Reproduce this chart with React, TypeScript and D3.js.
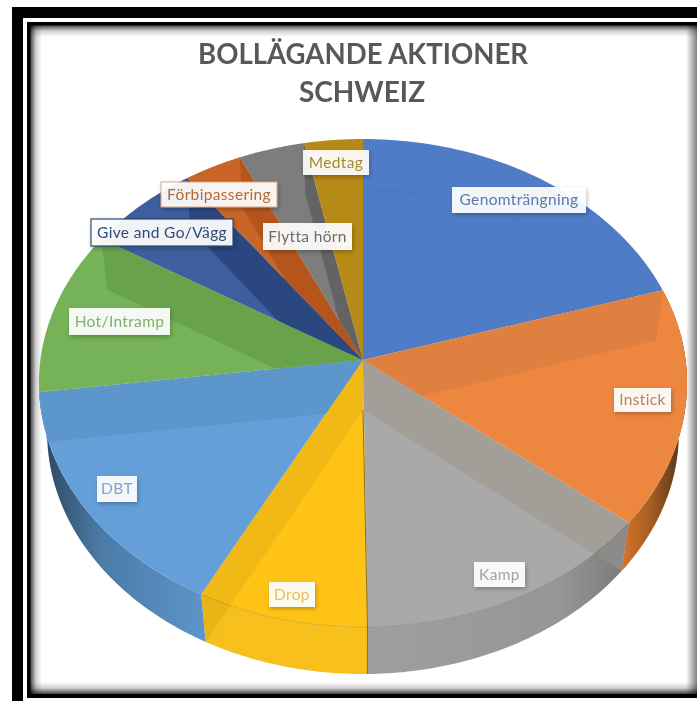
import React from "react";
import * as d3 from "d3";

const width = 697;
const height = 701;

// slice shares, percent
const categories = ["Genomträngning", "Instick", "Kamp", "Drop", "DBT", "Hot/Intramp", "Give and Go/Vägg", "Förbipassering", "Flytta hörn", "Medtag"];
const values = [20.2, 15.7, 13.9, 7.8, 15.3, 10.9, 6.2, 3.2, 3.6, 3.2];

const topColors = ["#4f7cc7", "#ed8740", "#a9a9a9", "#ffc317", "#659fd9", "#76b258", "#3c5f9f", "#c96526", "#7d7d7d", "#b68a14"];
const wallColors = ["#4a76bd", "#df7f3f", "#a39e98", "#f1b917", "#5c96cb", "#68a24b", "#2c477f", "#b4561e", "#646464", "#a67d10"];
const wallSideColors = ["#4a76bd", "#c46f30", "#8b8b8b", "#e9b516", "#5c96cb", "#68a24b", "#2c477f", "#b4561e", "#646464", "#a67d10"];
const textColors = ["#5a7aa8", "#b98258", "#a3a3a3", "#e8c060", "#82a5ca", "#82b26c", "#2f4a75", "#b56a36", "#6c6c6c", "#a8892f"];

// which cut face shows: the one on the start or the end of the slice
const wallSide = ["none", "start", "start", "end", "end", "end", "end", "end", "end", "end"];

// label boxes: x0, y0, x1, y1
const labelBoxes = [
  [452, 187, 586, 213], [614, 388, 671, 412], [474, 562, 525, 587], [269, 582, 315, 607], [97, 476, 137, 502],
  [69, 308, 170, 335], [91, 219, 233, 246], [161, 182, 277, 207], [263, 223, 352, 250], [303, 150, 369, 175],
];

// perspective: top rim and bottom rim of the pie
const rimTop = { cy: 360, rx: 322.6, ry: 241.8, k: 0.0943 };
const rimBottom = { cy: 410, rx: 314.6, ry: 240, k: 0.091 };
const cx = 363;

type Rim = typeof rimTop;
const project = (rim: Rim, a: number): [number, number] => {
  const X = Math.sin(a);
  const Y = -Math.cos(a);
  const w = 1 - rim.k * Y;
  return [cx + (rim.rx * X) / w, rim.cy + (rim.ry * Y) / w];
};
const arcPoints = (rim: Rim, a0: number, a1: number) =>
  d3.range(0, 61).map((i) => project(rim, a0 + ((a1 - a0) * i) / 60));
const line = d3.line();

const slices = d3.pie<number>().sort(null)(values);

const topPath = (s: any) => line([[cx, rimTop.cy], ...arcPoints(rimTop, s.startAngle, s.endAngle)]) + "Z";
const sidePath = (s: any) =>
  line([...arcPoints(rimTop, s.startAngle, s.endAngle), ...arcPoints(rimBottom, s.endAngle, s.startAngle)]) + "Z";
const wallPath = (a: number) =>
  line([[cx, rimTop.cy], project(rimTop, a), project(rimBottom, a), [cx, rimBottom.cy]]) + "Z";

// the side walls shade across x, stops are [x, colour]
const sideStops: ([number, string][] | null)[] = [
  null,
  [[618, "#d9762c"], [650, "#a85f24"], [682, "#553318"]],
  [[367, "#9f9f9f"], [560, "#969696"], [622, "#7c7c7c"]],
  [[205, "#f6bf1a"], [367, "#f9c11a"]],
  [[47, "#2f4a66"], [100, "#4c7aa6"], [205, "#5c95cb"]],
  null, null, null, null, null,
];

const frameBlur = 12;

export default function App() {
  return (
    <svg width={width} height={height} style={{ position: "absolute", left: 0, top: 0, background: "#fff" }}>
      <defs>
        <linearGradient id="shade-l" x1="0" x2="1" y1="0" y2="0">
          <stop offset="0" stopColor="#000" stopOpacity={0.75} />
          <stop offset="0.5" stopColor="#000" stopOpacity={0.18} />
          <stop offset="1" stopColor="#000" stopOpacity={0} />
        </linearGradient>
        <linearGradient id="shade-r" x1="1" x2="0" y1="0" y2="0">
          <stop offset="0" stopColor="#000" stopOpacity={0.5} />
          <stop offset="1" stopColor="#000" stopOpacity={0} />
        </linearGradient>
        <linearGradient id="shade-t" x1="0" x2="0" y1="0" y2="1">
          <stop offset="0" stopColor="#000" stopOpacity={0.75} />
          <stop offset="0.5" stopColor="#000" stopOpacity={0.18} />
          <stop offset="1" stopColor="#000" stopOpacity={0} />
        </linearGradient>
        <linearGradient id="shade-b" x1="0" x2="0" y1="1" y2="0">
          <stop offset="0" stopColor="#000" stopOpacity={0.75} />
          <stop offset="0.5" stopColor="#000" stopOpacity={0.18} />
          <stop offset="1" stopColor="#000" stopOpacity={0} />
        </linearGradient>
        <filter id="soft" x="-20%" y="-20%" width="140%" height="140%">
          <feGaussianBlur stdDeviation="0.5" />
        </filter>
        <filter id="box-shadow" x="-20%" y="-30%" width="140%" height="170%">
          <feDropShadow dx="1" dy="2" stdDeviation="2" floodColor="#000" floodOpacity={0.28} />
        </filter>
        {sideStops.map((stops, i) =>
          stops ? (
            <linearGradient key={i} id={`side-${i}`} gradientUnits="userSpaceOnUse" x1={stops[0][0]} x2={stops[stops.length - 1][0]} y1={0} y2={0}>
              {stops.map(([x, c]) => (
                <stop key={x} offset={(x - stops[0][0]) / (stops[stops.length - 1][0] - stops[0][0])} stopColor={c} />
              ))}
            </linearGradient>
          ) : null
        )}
        {slices.map((s, i) => (
          <clipPath key={i} id={`top-clip-${i}`}>
            <path d={topPath(s)} />
          </clipPath>
        ))}
        {slices.map((s, i) => (
          <clipPath key={i} id={`side-clip-${i}`}>
            <path d={sidePath(s)} />
          </clipPath>
        ))}
      </defs>

      {/* frame */}
      <rect x={12} y={7} width={width - 12} height={11} fill="#000" />
      <rect x={12} y={7} width={11} height={height - 7} fill="#000" />
      <rect x={27} y={22} width={width - 27} height={3.5} fill="#000" />
      <rect x={27} y={22} width={3.5} height={676} fill="#000" />
      <rect x={27} y={694} width={width - 27} height={4} fill="#000" />
      <rect x={30} y={25} width={frameBlur} height={669} fill="url(#shade-l)" />
      <rect x={30} y={25} width={width - 30} height={frameBlur} fill="url(#shade-t)" />
      <rect x={30} y={694 - frameBlur} width={width - 30} height={frameBlur} fill="url(#shade-b)" />
      <rect x={width - 11} y={25} width={11} height={669} fill="url(#shade-r)" />

      {/* title */}
      <g fontFamily="Lato, sans-serif" fontWeight={700} fontSize={28} fill="#595959" textAnchor="middle" filter="url(#soft)">
        <text x={363} y={64} textLength={330} lengthAdjust="spacingAndGlyphs">BOLLÄGANDE AKTIONER</text>
        <text x={362} y={102}>SCHWEIZ</text>
      </g>

      <g filter="url(#soft)">
        {/* sides first, the top faces cover what is behind */}
        {slices.map((s, i) =>
          sideStops[i] ? <path key={i} d={sidePath(s)} fill={`url(#side-${i})`} /> : null
        )}
        {slices.map((s, i) => (
          <path key={i} d={topPath(s)} fill={topColors[i]} />
        ))}

        {/* cut faces seen through the slices */}
        {slices.map((s, i) => {
          if (wallSide[i] === "none") return null;
          const a = wallSide[i] === "start" ? s.startAngle : s.endAngle;
          return (
            <g key={i}>
              <path d={wallPath(a)} fill={wallColors[i]} clipPath={`url(#top-clip-${i})`} />
              <path d={wallPath(a)} fill={wallSideColors[i]} clipPath={`url(#side-clip-${i})`} />
            </g>
          );
        })}

        {/* faint rims */}
        <path d={line(arcPoints(rimBottom, 0, Math.PI * 2)) as string} fill="none" stroke="#000" strokeOpacity={0.05} clipPath="url(#top-clip-0)" />
        <path d={line(arcPoints(rimTop, slices[2].startAngle, slices[3].endAngle)) as string} fill="none" stroke="#000" strokeOpacity={0.14} />
        <path d={line([[cx, rimBottom.cy], project(rimTop, slices[3].startAngle), project(rimBottom, slices[3].startAngle)]) as string} fill="none" stroke="#6b5a1e" strokeWidth={1} strokeOpacity={0.8} />
      </g>

      {/* labels */}
      {categories.map((c, i) => {
        const [x0, y0, x1, y1] = labelBoxes[i];
        const border = i === 6 ? "#2f4a75" : i === 7 ? "#e0a57a" : "none";
        return (
          <g key={c}>
            <rect x={x0} y={y0} width={x1 - x0} height={y1 - y0} fill="#fff" fillOpacity={0.92} stroke={border} strokeWidth={i === 6 ? 1.2 : 1} filter="url(#box-shadow)" />
            <text
              x={(x0 + x1) / 2}
              y={(y0 + y1) / 2 + 5}
              textAnchor="middle"
              fontFamily="Lato, sans-serif"
              fontSize={15.5}
              letterSpacing={0.35}
              fill={textColors[i]}
              filter="url(#soft)"
            >
              {c}
            </text>
          </g>
        );
      })}
    </svg>
  );
}
